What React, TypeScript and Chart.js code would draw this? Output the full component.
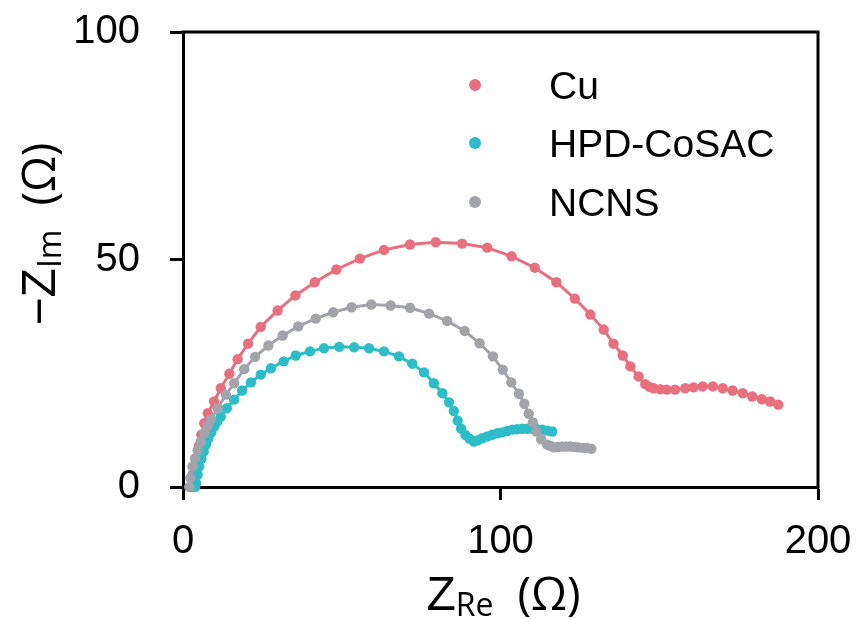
import React, { useEffect, useRef } from 'react';
import { Chart, registerables } from 'chart.js';

Chart.register(...registerables);

// ---- data ----
const seriesLabels = ['Cu', 'HPD-CoSAC', 'NCNS'];
const seriesColors = ['#E8707E', '#2CBDC9', '#A3A3AB'];

const cuRe = [2.5, 3.2, 4.0, 5.0, 5.8, 6.7, 7.8, 9.8, 11.9, 14.6, 17.2, 20.5, 24.5, 29.8, 35.4, 41.5, 48.3, 55.7, 63.3, 71.5, 79.6, 87.9, 95.8, 103.5, 110.8, 117.6, 123.4, 128.3, 132.5, 135.6, 138.5, 140.9, 143.5, 145.6, 147.0, 148.2, 150.3, 152.4, 155.0, 158.2, 160.8, 163.7, 166.9, 170.0, 173.1, 176.3, 179.3, 182.3, 184.9, 187.5];
const cuIm = [0.0, 3.0, 6.0, 9.0, 11.5, 14.0, 16.2, 18.8, 21.7, 24.9, 28.1, 31.5, 35.2, 38.8, 42.1, 45.0, 47.8, 50.2, 52.1, 53.3, 53.8, 53.5, 52.6, 50.7, 48.2, 45.0, 41.4, 37.9, 34.6, 31.5, 28.9, 26.5, 24.3, 22.6, 22.0, 21.7, 21.5, 21.4, 21.4, 21.7, 21.9, 22.1, 22.1, 21.7, 21.2, 20.6, 19.9, 19.3, 18.8, 18.1];

const cosacRe = [3.8, 4.1, 4.6, 5.1, 5.8, 6.5, 7.2, 8.0, 8.9, 9.8, 10.8, 11.9, 13.8, 16.1, 18.6, 21.4, 24.5, 27.7, 31.7, 35.5, 40.0, 44.4, 49.2, 53.9, 58.6, 63.3, 68.0, 72.2, 75.9, 79.0, 81.7, 83.8, 85.3, 86.5, 87.6, 89.0, 90.3, 91.6, 92.9, 94.2, 95.8, 97.4, 99.0, 100.5, 102.1, 103.7, 105.2, 106.8, 108.4, 110.0, 111.5, 113.1, 114.7, 116.3];
const cosacIm = [0.0, 0.8, 2.7, 4.5, 6.2, 7.8, 9.3, 10.7, 12.0, 13.3, 14.4, 15.5, 17.3, 19.2, 21.2, 23.0, 24.7, 26.1, 27.6, 28.9, 29.8, 30.5, 30.8, 30.7, 30.5, 29.8, 28.7, 27.1, 25.2, 22.8, 20.6, 18.6, 16.7, 14.6, 12.8, 11.4, 10.6, 10.0, 10.3, 10.7, 11.1, 11.5, 11.8, 12.0, 12.3, 12.6, 12.7, 12.8, 12.8, 12.8, 12.7, 12.6, 12.4, 12.2];

const ncnsRe = [2.0, 2.3, 3.0, 3.8, 4.6, 5.6, 6.7, 7.7, 8.8, 10.9, 13.5, 16.1, 19.3, 22.7, 26.9, 31.4, 36.3, 41.8, 47.3, 53.1, 59.3, 65.4, 71.5, 77.5, 83.2, 88.7, 93.4, 97.6, 100.7, 103.4, 105.8, 107.5, 108.9, 110.2, 111.3, 112.8, 114.7, 115.8, 116.8, 117.9, 119.4, 120.7, 122.0, 123.3, 124.6, 126.0, 127.3, 128.6];
const ncnsIm = [0.0, 2.0, 4.5, 6.3, 8.1, 10.0, 11.8, 13.3, 14.8, 17.3, 20.3, 22.8, 25.9, 28.6, 31.1, 33.3, 35.3, 37.0, 38.4, 39.5, 40.1, 39.9, 39.4, 38.1, 36.5, 34.3, 31.6, 28.7, 25.8, 23.0, 20.5, 18.3, 16.1, 14.2, 12.2, 10.5, 9.3, 9.0, 8.7, 8.8, 8.9, 8.9, 8.9, 8.8, 8.7, 8.6, 8.6, 8.4];

const xTicks = [0, 100, 200];
const yTicks = [0, 50, 100];

const seriesRe = [cuRe, cosacRe, ncnsRe];
const seriesIm = [cuIm, cosacIm, ncnsIm];
const seriesOrder = [3, 2, 1];

type Part = { text: string; font: string; dy: number };

const xTitleParts: Part[] = [
  { text: 'Z', font: '48px "Liberation Sans", Arial, sans-serif', dy: 0 },
  { text: 'Re', font: '32px "Open Sans", sans-serif', dy: 6 },
  { text: '  (Ω)', font: '46px "Open Sans", sans-serif', dy: 0 },
];
const yTitleParts: Part[] = [
  { text: '−Z', font: '48px "Liberation Sans", Arial, sans-serif', dy: 0 },
  { text: 'Im', font: '32px "Open Sans", sans-serif', dy: 6 },
  { text: '  (Ω)', font: '46px "Open Sans", sans-serif', dy: 0 },
];

function drawParts(ctx: CanvasRenderingContext2D, parts: Part[], cx: number, baseline: number) {
  let total = 0;
  const widths = parts.map((p) => {
    ctx.font = p.font;
    const w = ctx.measureText(p.text).width;
    total += w;
    return w;
  });
  let x = cx - total / 2;
  parts.forEach((p, i) => {
    ctx.font = p.font;
    ctx.fillText(p.text, x, baseline + p.dy);
    x += widths[i];
  });
}

const decorPlugin = {
  id: 'decor',
  afterDraw(chart: any) {
    const ctx: CanvasRenderingContext2D = chart.ctx;
    const a = chart.chartArea;
    ctx.save();
    // box (top + right)
    ctx.strokeStyle = '#000';
    ctx.lineWidth = 3;
    ctx.beginPath();
    ctx.moveTo(a.left - 1.5, a.top);
    ctx.lineTo(a.right, a.top);
    ctx.lineTo(a.right, a.bottom + 1.5);
    ctx.stroke();

    ctx.fillStyle = '#000';
    ctx.textBaseline = 'alphabetic';
    ctx.textAlign = 'left';
    // x title
    drawParts(ctx, xTitleParts, (a.left + a.right) / 2 + 3, 610);
    // y title
    ctx.save();
    ctx.translate(55, 234);
    ctx.rotate(-Math.PI / 2);
    drawParts(ctx, yTitleParts, 0, 0);
    ctx.restore();

    // legend
    const rows = [85, 143, 202];
    seriesLabels.forEach((label, i) => {
      ctx.fillStyle = seriesColors[i];
      ctx.beginPath();
      ctx.arc(475, rows[i], 6, 0, Math.PI * 2);
      ctx.fill();
      ctx.fillStyle = '#000';
      ctx.font = '39px "Liberation Sans", Arial, sans-serif';
      ctx.fillText(label, 549, rows[i] + 14);
    });
    ctx.restore();
  },
};

export default function App() {
  const ref = useRef<HTMLCanvasElement | null>(null);

  useEffect(() => {
    if (!ref.current) return;
    const tickFont = { family: '"Liberation Sans", Arial, sans-serif', size: 40 };
    const chart = new Chart(ref.current, {
      type: 'scatter',
      data: {
        datasets: seriesLabels.map((label, i) => ({
          label,
          data: seriesRe[i].map((x, j) => ({ x, y: seriesIm[i][j] })),
          showLine: true,
          borderColor: seriesColors[i],
          backgroundColor: seriesColors[i],
          borderWidth: 3,
          pointRadius: 5.2,
          pointBorderWidth: 0,
          pointBackgroundColor: seriesColors[i],
          order: seriesOrder[i],
          clip: 8,
        })),
      },
      options: {
        animation: false,
        responsive: true,
        maintainAspectRatio: false,
        layout: { padding: { left: 0, top: 32, right: 39, bottom: 0 } },
        plugins: { legend: { display: false }, tooltip: { enabled: false } },
        scales: {
          x: {
            type: 'linear',
            min: 0,
            max: 200,
            afterBuildTicks: (s: any) => {
              s.ticks = xTicks.map((v) => ({ value: v }));
            },
            afterFit: (s: any) => {
              s.height = 132;
              s.paddingLeft = 0;
              s.paddingRight = 0;
            },
            ticks: { font: tickFont, color: '#000', padding: 18, maxRotation: 0 },
            grid: { drawOnChartArea: false, drawTicks: true, tickLength: 13, tickWidth: 3, tickColor: '#000' },
            border: { display: true, width: 3, color: '#000' },
          },
          y: {
            type: 'linear',
            min: 0,
            max: 100,
            afterBuildTicks: (s: any) => {
              s.ticks = yTicks.map((v) => ({ value: v }));
            },
            afterFit: (s: any) => {
              s.width = 183;
              s.paddingTop = 0;
              s.paddingBottom = 0;
            },
            ticks: { font: tickFont, color: '#000', padding: 30 },
            grid: { drawOnChartArea: false, drawTicks: true, tickLength: 13, tickWidth: 3, tickColor: '#000' },
            border: { display: true, width: 3, color: '#000' },
          },
        },
      },
      plugins: [decorPlugin],
    });
    return () => chart.destroy();
  }, []);

  return (
    <div style={{ position: 'fixed', left: 0, top: 0, width: 857, height: 619, background: '#fff' }}>
      <canvas ref={ref} />
    </div>
  );
}
